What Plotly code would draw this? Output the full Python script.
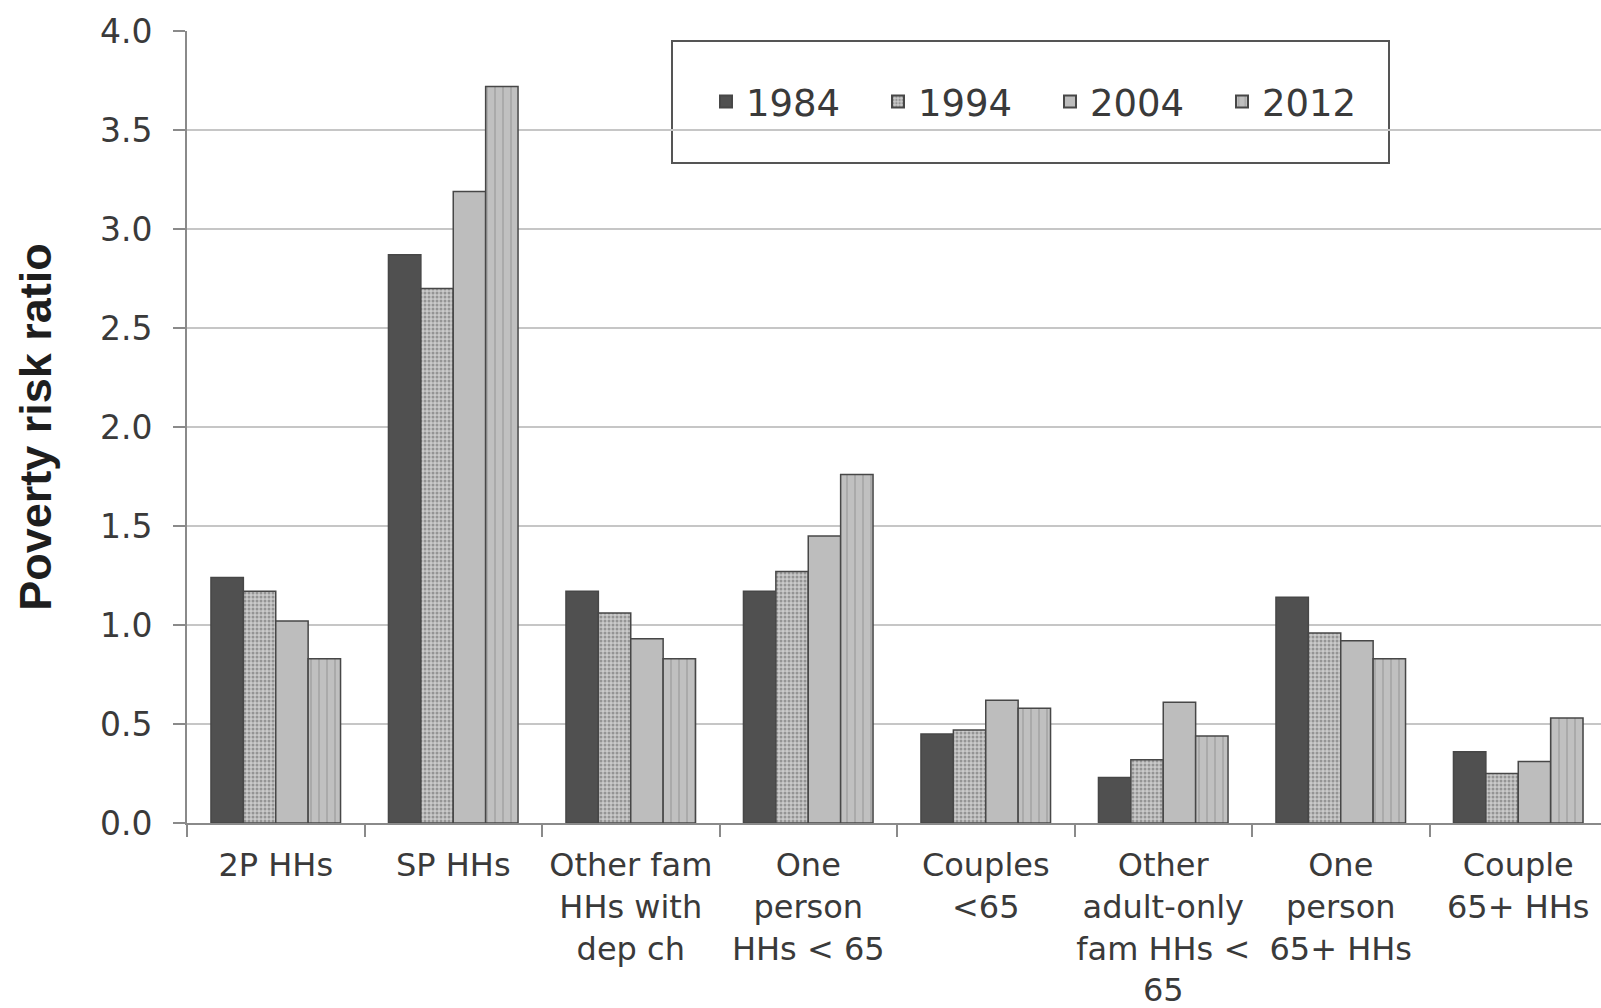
import plotly.graph_objects as go

categories = ["2P HHs", "SP HHs", "Other fam<br>HHs with<br>dep ch", "One<br>person<br>HHs &lt; 65",
              "Couples<br>&lt;65", "Other<br>adult-only<br>fam HHs &lt;<br>65", "One<br>person<br>65+ HHs",
              "Couple<br>65+ HHs"]
years = ["1984", "1994", "2004", "2012"]
v1984 = [1.24, 2.87, 1.17, 1.17, 0.45, 0.23, 1.14, 0.36]
v1994 = [1.17, 2.70, 1.06, 1.27, 0.47, 0.32, 0.96, 0.25]
v2004 = [1.02, 3.19, 0.93, 1.45, 0.62, 0.61, 0.92, 0.31]
v2012 = [0.83, 3.72, 0.83, 1.76, 0.58, 0.44, 0.83, 0.53]
y_ticks = [0.0, 0.5, 1.0, 1.5, 2.0, 2.5, 3.0, 3.5, 4.0]

series = [v1984, v1994, v2004, v2012]
styles = [
    dict(color="#505050", pattern=dict(shape="")),
    dict(color="#c0c0c0", pattern=dict(shape=".", size=4, solidity=0.45, fgcolor="#5e5e5e", bgcolor="#cacaca")),
    dict(color="#bdbdbd", pattern=dict(shape="")),
    dict(color="#bbbbbb", pattern=dict(shape="|", size=8, solidity=0.2, fgcolor="#8a8a8a", bgcolor="#c0c0c0")),
]

fig = go.Figure()
for name, vals, st in zip(years, series, styles):
    fig.add_trace(go.Bar(
        x=categories, y=vals, name=name,
        marker=dict(color=st["color"], pattern=st["pattern"],
                    line=dict(color="#474747", width=1.5)),
    ))

W, H = 1601, 1008
L, R, T, B = 187, 0, 31, 185
pw, ph = W - L - R, H - T - B

def px_x(p):
    return (p - L) / pw

def px_y(p):
    return (H - B - p) / ph

fig.update_layout(
    width=W, height=H,
    margin=dict(l=L, r=R, t=T, b=B, pad=0),
    paper_bgcolor="white", plot_bgcolor="white",
    barmode="group", bargap=0.27, bargroupgap=0,
    font=dict(family="DejaVu Sans", size=32, color="#3a3a3a"),
    showlegend=True,
    legend=dict(orientation="h", x=px_x(706), xanchor="left", y=px_y(102), yanchor="middle",
                bgcolor="rgba(0,0,0,0)", borderwidth=0,
                font=dict(family="DejaVu Sans", size=37, color="#3a3a3a"),
                entrywidth=127, entrywidthmode="pixels", itemsizing="constant"),
    shapes=[dict(type="rect", xref="paper", yref="paper",
                 x0=px_x(672), x1=px_x(1389), y0=px_y(163), y1=px_y(41),
                 line=dict(color="#555555", width=2), fillcolor="white", layer="below")],
)

fig.update_xaxes(
    type="category", range=[-0.5, -0.5 + pw / 177.5],
    showline=True, linecolor="#8a8a8a", linewidth=2,
    ticks="outside", tickson="boundaries", ticklen=12, tickcolor="#8a8a8a", tickwidth=2,
    tickfont=dict(family="DejaVu Sans", size=32, color="#3a3a3a"),
    ticklabelstandoff=13, showgrid=False, tickangle=0,
)
fig.update_yaxes(
    range=[0, 4.0], tickvals=y_ticks, ticktext=[f"{v:.1f}" for v in y_ticks],
    showline=True, linecolor="#8a8a8a", linewidth=2,
    ticks="outside", ticklen=12, tickcolor="#8a8a8a", tickwidth=2,
    showgrid=True, gridcolor="#c6c6c6", gridwidth=2,
    tickfont=dict(family="DejaVu Sans", size=33, color="#3a3a3a"),
    ticklabelstandoff=14, zeroline=False,
    title=dict(text="<b>Poverty risk ratio</b>", standoff=34,
               font=dict(family="Liberation Sans", size=45, color="#1e1e1e")),
)

fig.write_html("out.html", config={"displayModeBar": False},
               post_script="document.body.style.margin='0';document.body.style.overflow='hidden';")
